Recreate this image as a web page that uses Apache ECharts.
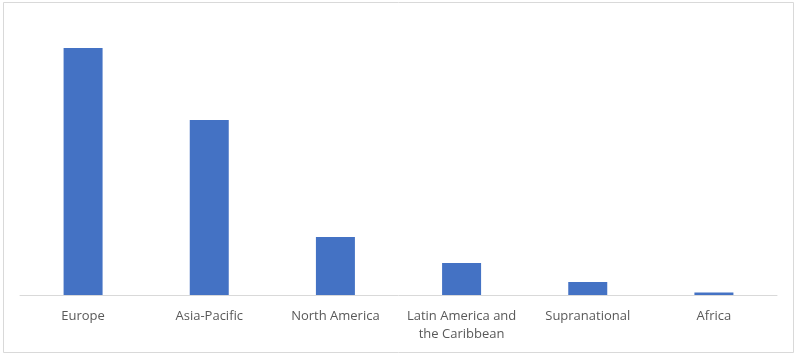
<!DOCTYPE html>
<html>
<head>
<meta charset="utf-8">
<script src="https://cdn.jsdelivr.net/npm/echarts@6/dist/echarts.min.js"></script>
<style>
html,body{margin:0;padding:0;background:#fff;}
#chart{width:800px;height:359px;}
</style>
</head>
<body>
<div id="chart"></div>
<script>
const categories = ['Europe', 'Asia-Pacific', 'North America', 'Latin America and\nthe Caribbean', 'Supranational', 'Africa'];
const values = [247, 175, 58, 32, 13, 2.5];

const chart = echarts.init(document.getElementById('chart'));
chart.setOption({
  animation: false,
  backgroundColor: '#ffffff',
  graphic: [{
    type: 'rect',
    shape: { x: 3.5, y: 2.5, width: 790, height: 350 },
    style: { fill: 'none', stroke: '#d9d9d9', lineWidth: 1 },
    silent: true
  }],
  grid: { left: 20, right: 23, top: 25, bottom: 64 },
  xAxis: {
    type: 'category',
    data: categories,
    axisLine: { show: true, lineStyle: { color: '#d9d9d9', width: 1 } },
    axisTick: { show: false },
    axisLabel: {
      interval: 0,
      margin: 12,
      color: '#595959',
      fontFamily: 'Open Sans, sans-serif',
      fontSize: 13,
      lineHeight: 18
    }
  },
  yAxis: {
    type: 'value',
    min: 0,
    max: 270,
    show: false,
    splitLine: { show: false }
  },
  series: [{
    type: 'bar',
    data: values,
    barWidth: 39,
    itemStyle: { color: '#4472C4' }
  }]
});
</script>
</body>
</html>
